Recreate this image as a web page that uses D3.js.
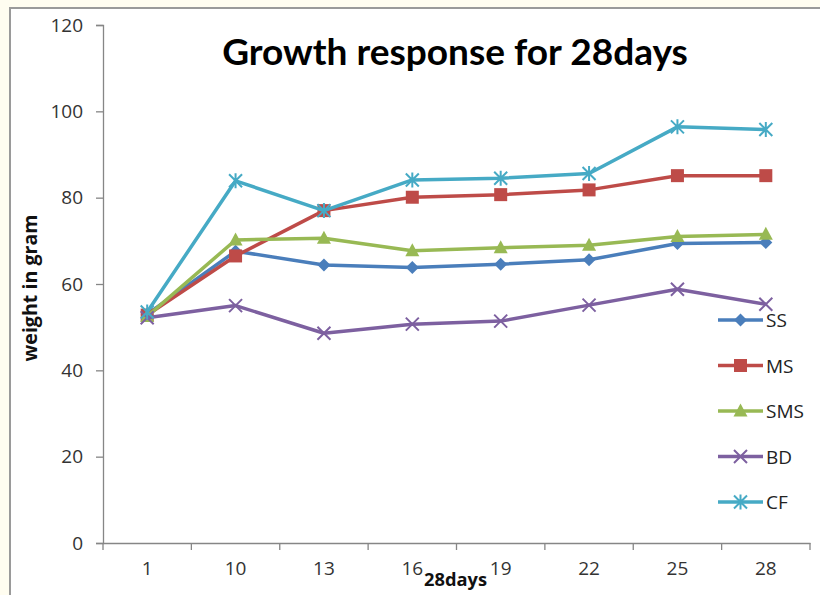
<!DOCTYPE html>
<html><head><meta charset="utf-8">
<script src="https://cdn.jsdelivr.net/npm/d3@7"></script>
<style>
html,body{margin:0;padding:0;background:#fffdf0;}
svg{display:block;}
</style></head>
<body>
<svg id="c" width="820" height="595"></svg>
<script>
const categories = ["1","10","13","16","19","22","25","28"];
const seriesNames = ["SS","MS","SMS","BD","CF"];
const SS  = [53.0, 67.6, 64.4, 63.8, 64.6, 65.6, 69.4, 69.6];
const MS  = [52.8, 66.5, 77.0, 80.1, 80.7, 81.8, 85.1, 85.1];
const SMS = [52.5, 70.2, 70.6, 67.7, 68.4, 69.0, 71.0, 71.5];
const BD  = [52.2, 55.0, 48.6, 50.7, 51.4, 55.1, 58.8, 55.3];
const CF  = [53.5, 83.9, 77.0, 84.1, 84.5, 85.6, 96.4, 95.8];
const yTicks = [0,20,40,60,80,100,120];
const titleText = "Growth response for 28days";
const xTitle = "28days";
const yTitle = "weight in gram";

const values = [SS, MS, SMS, BD, CF];
const colors = ["#4a7ebb","#be4b48","#98b954","#7d60a0","#46aac5"];
const shapes = ["diamond","square","triangle","x","star"];

const svg = d3.select("#c");
const font = "'Open Sans', Lato, sans-serif";
const tfont = "Lato, 'Open Sans', sans-serif";

function fit(sel, target){
  const fs = +sel.attr("font-size");
  const w = sel.node().getComputedTextLength();
  sel.attr("font-size", fs*target/w);
}

// chart area box
svg.append("rect").attr("x",10).attr("y",8).attr("width",830).attr("height",600)
  .attr("fill","#ffffff").attr("stroke","#9a9a9a").attr("stroke-width",2);

const L = 103, R = 810, T = 25, B = 543;
const x = d3.scaleBand().domain(categories).range([L,R]).padding(0);
const y = d3.scaleLinear().domain([0,120]).range([B,T]);

// y axis
const yAx = svg.append("g").attr("transform",`translate(${L},0)`)
  .call(d3.axisLeft(y).tickValues(yTicks).tickSize(7).tickPadding(13).tickFormat(d3.format("d")));
yAx.select(".domain").attr("stroke","#868686").attr("stroke-width",1.3);
yAx.selectAll(".tick line").attr("stroke","#868686").attr("stroke-width",1.3);
yAx.selectAll("text").attr("font-family",font).attr("font-size",19).attr("fill","#333");

// x axis
const xAx = svg.append("g").attr("transform",`translate(0,${B})`)
  .call(d3.axisBottom(x).tickSize(0).tickPadding(19));
xAx.select(".domain").attr("stroke","#868686").attr("stroke-width",1.3);
xAx.selectAll("text").attr("font-family",font).attr("font-size",19).attr("fill","#333");
// tick marks at category boundaries
const bounds = categories.map(c => x(c)).concat([x(categories[categories.length-1]) + x.bandwidth()]);
svg.append("g").selectAll("line").data(bounds).join("line")
  .attr("x1",d=>d).attr("x2",d=>d).attr("y1",B).attr("y2",B+7)
  .attr("stroke","#868686").attr("stroke-width",1.3);

// titles
const title = svg.append("text").attr("x",455).attr("y",65).attr("text-anchor","middle")
  .attr("font-family",tfont).attr("font-weight","bold").attr("font-size",30).attr("fill","#000")
  .text(titleText);
fit(title, 466);

const xt = svg.append("text").attr("x",455.5).attr("y",586).attr("text-anchor","middle")
  .attr("font-family",font).attr("font-weight","bold").attr("font-size",17).attr("fill","#111")
  .text(xTitle);
fit(xt, 63);
const yt = svg.append("text").attr("transform","translate(37,288) rotate(-90)").attr("text-anchor","middle")
  .attr("font-family",font).attr("font-weight","bold").attr("font-size",16).attr("fill","#111")
  .text(yTitle);
fit(yt, 147);

// marker drawing
function marker(g, shape, color, cx, cy){
  const s = 6.5;
  if(shape==="diamond"){
    g.append("path").attr("d",`M${cx},${cy-s}L${cx+s},${cy}L${cx},${cy+s}L${cx-s},${cy}Z`).attr("fill",color);
  } else if(shape==="square"){
    g.append("rect").attr("x",cx-s).attr("y",cy-s).attr("width",2*s).attr("height",2*s).attr("fill",color);
  } else if(shape==="triangle"){
    g.append("path").attr("d",`M${cx},${cy-s-1}L${cx+s+0.5},${cy+s-1}L${cx-s-0.5},${cy+s-1}Z`).attr("fill",color);
  } else if(shape==="x"){
    g.append("path").attr("d",`M${cx-s},${cy-s}L${cx+s},${cy+s}M${cx-s},${cy+s}L${cx+s},${cy-s}`)
      .attr("stroke",color).attr("stroke-width",2).attr("fill","none");
  } else if(shape==="star"){
    g.append("path").attr("d",`M${cx-s},${cy-s}L${cx+s},${cy+s}M${cx-s},${cy+s}L${cx+s},${cy-s}M${cx},${cy-s-1}L${cx},${cy+s+1}`)
      .attr("stroke",color).attr("stroke-width",2).attr("fill","none");
  }
}

const cx = c => x(c) + x.bandwidth()/2;
const line = d3.line().x((d,i)=>cx(categories[i])).y(d=>y(d));

values.forEach((vals,k)=>{
  const g = svg.append("g");
  g.append("path").datum(vals).attr("d",line).attr("fill","none")
    .attr("stroke",colors[k]).attr("stroke-width",3.5).attr("stroke-linejoin","round");
  vals.forEach((v,i)=>marker(g, shapes[k], colors[k], cx(categories[i]), y(v)));
});

// legend
const lg = svg.append("g");
seriesNames.forEach((n,k)=>{
  const ly = 320 + k*45.5;
  lg.append("line").attr("x1",718).attr("x2",763).attr("y1",ly).attr("y2",ly)
    .attr("stroke",colors[k]).attr("stroke-width",3.5);
  marker(lg, shapes[k], colors[k], 740.5, ly);
  lg.append("text").attr("x",766).attr("y",ly+7).attr("font-family",font).attr("font-size",19)
    .attr("fill","#222").text(n);
});
</script>
</body></html>
